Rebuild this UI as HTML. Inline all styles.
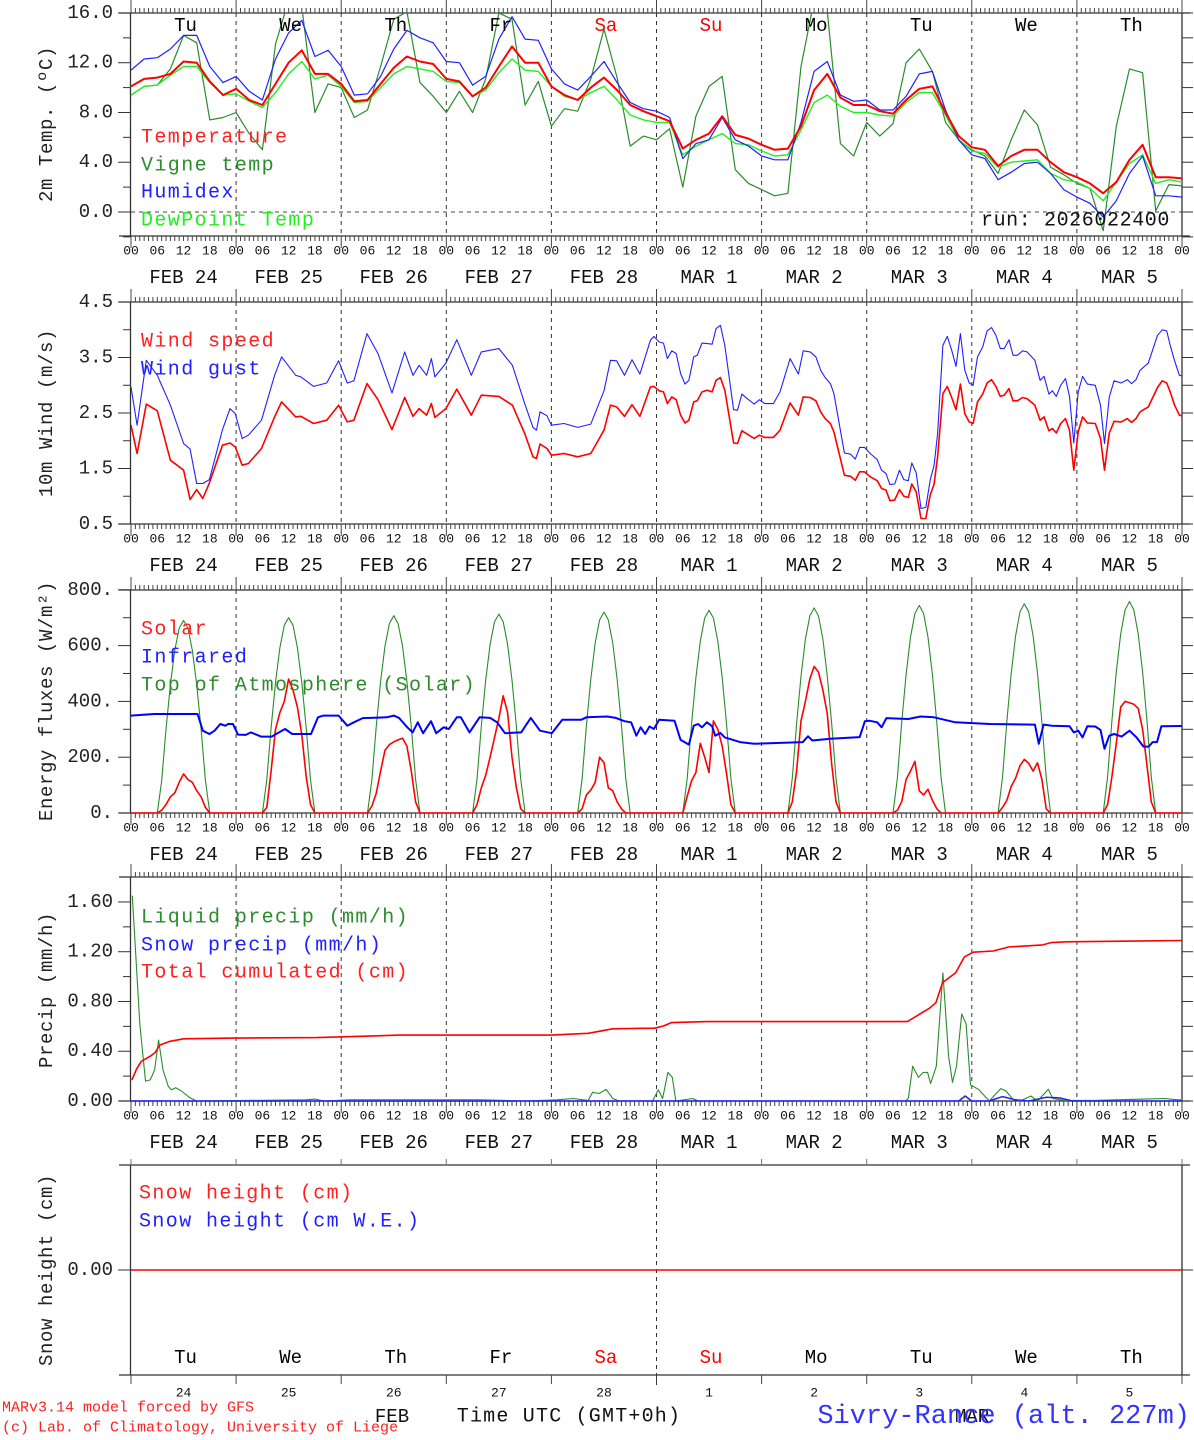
<!DOCTYPE html>
<html><head><meta charset="utf-8"><title>MAR meteogram Sivry-Rance</title>
<style>
html,body{margin:0;padding:0;background:#fff;}
svg{display:block;font-family:"Liberation Mono","DejaVu Sans Mono",monospace;}
</style></head>
<body>
<svg id="chart" width="1194" height="1440" viewBox="0 0 1194 1440" xmlns="http://www.w3.org/2000/svg">
<defs>
<clipPath id="c1"><rect x="131" y="13" width="1051" height="223"/></clipPath>
<clipPath id="c2"><rect x="131" y="302" width="1051" height="222"/></clipPath>
<clipPath id="c3"><rect x="131" y="588" width="1051" height="226"/></clipPath>
<clipPath id="c4"><rect x="131" y="877" width="1051" height="225"/></clipPath>
</defs>
<g id="axes"></g>
<g id="series"></g>
<g id="texts"></g>
</svg>
<script>
// ---------- DATA ----------
const dayNames = ["Tu","We","Th","Fr","Sa","Su","Mo","Tu","We","Th"];
const dayNameColors = ["#000","#000","#000","#000","#f00","#f00","#000","#000","#000","#000"];
const dateLabels = ["FEB  24","FEB  25","FEB  26","FEB  27","FEB  28","MAR   1","MAR   2","MAR   3","MAR   4","MAR   5"];
const dayNumbers = ["24","25","26","27","28","1","2","3","4","5"];
const hourLabels = ["00","06","12","18"];

// Panel 1 temperature (3-hourly, 0..240h)
const tempHours3h = [0,3,6,9,12,15,18,21,24,27,30,33,36,39,42,45,48,51,54,57,60,63,66,69,72,75,78,81,84,87,90,93,96,99,102,105,108,111,114,117,120,123,126,129,132,135,138,141,144,147,150,153,156,159,162,165,168,171,174,177,180,183,186,189,192,195,198,201,204,207,210,213,216,219,222,225,228,231,234,237,240];
const temperature = [10.1,10.7,10.8,11.1,12.1,12.0,10.5,9.4, 9.9,9.0,8.6,10.3,12.0,13.0,11.1,11.1, 10.3,8.9,9.0,10.3,11.6,12.5,12.1,11.9, 10.7,10.5,9.3,10.0,11.7,13.3,12.0,12.0, 10.1,9.4,9.0,10.0,10.8,9.8,8.6,8.1, 7.7,7.3,5.1,5.8,6.3,7.7,6.2,5.9, 5.4,5.0,5.1,6.9,9.8,11.1,9.2,8.6, 8.6,8.1,7.9,9.0,9.9,10.1,8.0,6.1, 5.2,5.0,3.7,4.5,5.0,5.0,4.0,3.2, 2.8,2.3,1.5,2.4,4.2,5.4,2.8,2.8, 2.7];
const humidex = [11.4,12.3,12.4,13.1,14.2,14.2,11.7,10.4, 10.9,9.7,9.0,12.3,14.4,15.4,12.5,13.0, 11.7,9.4,9.5,10.9,13.1,14.6,14.0,13.6, 12.1,12.0,10.2,10.9,13.9,15.7,13.9,13.8, 11.5,10.3,9.8,10.9,12.1,10.4,8.8,8.3, 8.1,7.6,4.3,5.5,5.8,7.6,5.8,5.3, 4.5,4.2,4.2,7.2,11.3,12.1,9.4,8.9, 9.0,8.2,8.2,9.3,11.1,11.3,8.2,5.8, 4.6,4.3,2.6,3.2,3.9,4.0,3.1,1.8, 1.2,0.7,-0.4,0.9,3.1,4.5,1.3,1.3, 1.2];
const dewPoint = [9.4,10.1,10.2,11.0,11.7,11.7,10.4,9.4, 9.5,8.9,8.4,9.6,11.1,12.1,10.7,11.0, 10.1,8.8,8.9,10.0,11.1,11.7,11.5,11.3, 10.5,10.4,9.3,9.8,11.2,12.3,11.4,11.3, 10.1,9.3,9.0,9.6,10.1,9.0,7.8,7.4, 7.2,7.2,4.6,5.3,5.8,6.3,5.5,5.4, 4.9,4.5,4.6,6.6,8.8,9.4,8.5,8.0, 8.0,7.8,7.7,8.8,9.6,9.6,7.8,5.8, 4.9,4.7,3.6,4.0,4.1,4.2,3.1,2.6, 2.4,1.9,0.9,2.4,3.9,4.6,2.3,2.6, 2.4];
const vigneTemp = [9.4,10.1,10.2,11.5,14.2,13.6,7.4,7.6, 8.0,6.3,5.0,13.5,17.0,16.5,8.0,10.3, 10.0,7.6,8.2,11.7,15.5,16.1,10.4,9.3, 8.0,9.7,8.0,10.7,16.0,15.5,8.6,10.5, 6.9,8.3,8.1,10.7,14.7,10.8,5.3,6.1, 5.8,6.7,2.0,7.7,10.1,10.9,3.4,2.3, 1.8,1.3,1.5,11.7,17.0,16.1,5.5,4.5, 7.2,6.1,7.1,12.0,13.1,11.3,7.2,5.8, 5.0,4.5,3.1,5.8,8.2,7.0,3.6,3.0, 2.3,1.9,-1.5,6.9,11.5,11.2,0.1,2.2, 2.1];

// Panel 2 wind
const windHours = [0,1.4,3.5,6,9,12,13.5,15,16.4,17.9, 20.9,22.6,23.8,25.4,26.8,29.8,32.8,34.4,37.6,38.8, 41.7,44.7,47.4,49.4,50.9,53.9,56.4,59.6,62.5,64.4, 65.8,67.5,68.6,69.4,71.9,74.4,77.7,80,84,87.1, 89.9,91.8,92.6,93.4,95,96,98.9,102,105,108, 109.5,110.9,112.7,114.4,116.2,118.6,
 119.4,120.6,121.6,122.5,123.5,124.5,125.5,126.5,127.4,128.5, 129.3,130.4,131.6,132.7,133.6,134.6,135.6,137.6,138.5,139.5, 140.7,142.3,143.5,144.7,146.7,148.2,150.5,152.4,153.5,155.1, 156.4,157.5,158.5,159.7,160.5,162.9,164.3,165.4,166.4,167.5, 168.8,170.4,171.4,172.4,173.3,174.4,175.5,176.5,177.5,178.3, 179.3,180.4,181.5,182.5,183.4,184.2,185.4,186.4,187.4,188.4, 189.4,190.4,191.4,192.3,193.3,194.5,195.5,196.5,197.5,198.5, 199.4,200.5,201.4,202.4,203.6,204.6,206.4,207.6,208.5,209.6, 210.4,211.3,212.3,213.4,214.3,215.3,216.3,217.3,218.4,220.2, 221.4,222.3,223.4,224.5,226.1,227.5,228.5,229.5,230.4,232.3, 234.4,235.5,236.5,237.3,238.3,239.4,240];
const windSpeed = [2.28,1.77,2.66,2.54,1.65,1.47,0.94,1.12,0.96,1.24, 1.92,1.96,1.89,1.56,1.59,1.86,2.43,2.70,2.43,2.44, 2.31,2.37,2.64,2.34,2.37,3.03,2.74,2.20,2.78,2.44, 2.58,2.46,2.67,2.42,2.58,2.93,2.46,2.82,2.80,2.64, 2.13,1.71,1.68,1.94,1.86,1.74,1.77,1.71,1.77,2.19, 2.64,2.61,2.44,2.65,2.44,2.97,
 2.98,2.90,2.88,2.67,2.79,2.74,2.46,2.32,2.37,2.70, 2.72,2.88,2.91,2.88,3.09,3.14,2.91,1.96,1.95,2.18, 2.12,2.04,2.10,2.06,2.06,2.19,2.68,2.46,2.79,2.78, 2.72,2.52,2.40,2.31,2.16,1.38,1.36,1.29,1.44,1.44, 1.35,1.28,1.14,1.11,0.92,0.93,1.12,1.00,0.98,1.22, 1.08,0.60,0.60,1.02,1.22,1.71,2.85,2.98,2.78,2.56, 3.02,2.49,2.34,2.31,2.70,2.84,3.04,3.10,2.98,2.80, 2.82,2.94,2.72,2.72,2.78,2.76,2.64,2.37,2.43,2.18, 2.22,2.14,2.31,2.40,2.19,1.47,2.16,2.43,2.32,2.31, 2.04,1.47,2.14,2.35,2.34,2.40,2.33,2.40,2.52,2.61, 2.96,3.08,3.04,2.88,2.64,2.46,2.45];
const windGust = [2.97,2.28,3.45,3.18,2.64,1.95,1.85,1.23,1.23,1.30, 2.20,2.58,2.49,2.04,2.10,2.37,3.18,3.51,3.18,3.15, 2.98,3.04,3.44,3.04,3.08,3.93,3.57,2.86,3.60,3.18, 3.36,3.18,3.48,3.15,3.40,3.82,3.18,3.60,3.66,3.36, 2.67,2.24,2.19,2.52,2.45,2.28,2.31,2.24,2.30,2.90, 3.45,3.44,3.18,3.46,3.20,3.81,
 3.88,3.78,3.76,3.48,3.62,3.57,3.21,3.02,3.09,3.51, 3.54,3.76,3.75,3.74,4.02,4.08,3.72,2.56,2.55,2.84, 2.76,2.66,2.74,2.67,2.67,2.88,3.48,3.20,3.62,3.60, 3.51,3.27,3.14,3.03,2.85,1.78,1.76,1.67,1.88,1.88, 1.77,1.66,1.47,1.41,1.21,1.22,1.47,1.30,1.28,1.60, 1.42,0.78,0.80,1.29,1.56,2.13,3.72,3.88,3.63,3.34, 3.93,3.27,3.04,3.00,3.51,3.69,3.98,4.04,3.90,3.66, 3.66,3.82,3.54,3.54,3.62,3.60,3.45,3.09,3.16,2.84, 2.90,2.80,3.00,3.12,2.80,1.96,2.88,3.16,3.02,3.00, 2.64,1.95,2.79,3.08,3.04,3.10,3.03,3.10,3.27,3.40, 3.90,4.00,3.98,3.72,3.44,3.18,3.17];

// Panel 3 energy fluxes: hourly values 06..18 UTC for each day
const sunHours = [6,7,8,9,10,11,12,13,14,15,16,17,18];
const solarDay24 = [0,10,30,58,72,110,140,120,110,80,58,20,0];
const solarDay25 = [0,20,150,300,360,400,480,440,380,280,130,30,0];
const solarDay26 = [0,25,70,150,225,245,255,262,268,240,150,40,0];
const solarDay27 = [0,30,90,135,200,270,340,420,360,200,90,15,0];
const solarDay28 = [0,15,65,82,110,200,180,90,80,40,15,0,0];
const solarDay01 = [0,60,115,145,250,200,145,330,300,240,140,30,0];
const solarDay02 = [0,40,150,330,400,480,525,505,440,355,175,40,0];
const solarDay03 = [0,10,40,120,150,185,80,65,85,45,15,0,0];
const solarDay04 = [0,20,45,95,125,170,192,178,150,180,120,15,0];
const solarDay05 = [0,30,130,250,380,400,395,390,375,300,170,40,0];
const solar = [solarDay24,solarDay25,solarDay26,solarDay27,solarDay28,solarDay01,solarDay02,solarDay03,solarDay04,solarDay05];
const toaDay24 = [0,117,300,460,584,663,690,663,584,460,300,117,0];
const toaDay25 = [0,119,305,467,593,673,700,673,593,467,305,119,0];
const toaDay26 = [0,120,308,472,599,679,707,679,599,472,308,120,0];
const toaDay27 = [0,121,310,476,604,685,713,685,604,476,310,121,0];
const toaDay28 = [0,122,313,480,610,692,720,692,610,480,313,122,0];
const toaDay01 = [0,124,316,485,616,699,727,699,616,485,316,124,0];
const toaDay02 = [0,125,320,490,623,706,735,706,623,490,320,125,0];
const toaDay03 = [0,126,324,496,630,715,744,715,630,496,324,126,0];
const toaDay04 = [0,128,326,500,635,721,750,721,635,500,326,128,0];
const toaDay05 = [0,129,330,506,642,728,758,728,642,506,330,129,0];
const toa = [toaDay24,toaDay25,toaDay26,toaDay27,toaDay28,toaDay01,toaDay02,toaDay03,toaDay04,toaDay05];
const irHours = [0,5.3,15.2,16.4,17.9,19.1,20.4,21.5,22.2,23.3, 24.4,26.2,27.4,29.7,32.1,33.8,35.2,36.8,41.1,42.7, 43.9,47.4,49.4,50.5,52.9,58.4,60,61.2,63.1,64.3, 65.5,66.7,68.5,69.7,71.4,72.6,74.4,75.3,77.3,79.6, 82,83.6,85.4,89.1,90.1,91.3,93.4,96.1,98.5,102.8, 104,108.7,110.7,112.7,114.2,115.4,116.4,117.4,118.4,119.4, 120.6,124.1,125.5,127.4,128.5,129.5,130.4,131.5,132.7,133.4, 134.6,135.6,139.1,142.3,153.4,154.6,155.6,159.7,166.4,167.6, 168.6,170.4,171.4,172.5,177.5,180.3,183.4,188.2,196.1,206.4, 207.3,208.4,210.3,214.3,215.3,216.3,217.3,218.4,220.2,221.4, 222.3,223.4,224.5,226.2,228,229.6,231.2,232.4,233.3,234.3, 235.3,240];
const infrared = [349,355,355,295,283,295,319,313,319,319, 281,280,289,274,274,289,301,283,283,343, 349,349,313,322,340,343,349,341,307,289, 325,286,329,286,307,301,343,343,289,343, 341,325,286,289,313,341,295,286,334,334, 343,346,341,329,325,277,307,283,310,301, 334,331,262,245,313,319,307,325,311,277, 287,271,254,248,254,275,260,266,272,329, 331,325,307,340,337,346,343,325,319,317, 248,317,313,311,289,295,271,311,310,298, 230,277,283,274,295,271,238,238,254,254, 311,312];

// Panel 4 precipitation
const cumHours = [0.2,1.3,2.4,4.4,5.5,6.6,8.9,12,23.4,42.4,61.4,84.2,96,104.4,110,119.6,121.6,123.4,131.7,177.3,182.3,183.8,185.3,186.8,188.3,190.3,192.3,196.9,200.4,208.2,210.1,213.6,240];
const cumPrecip = [0.17,0.26,0.32,0.36,0.39,0.45,0.48,0.50,0.506,0.51,0.53,0.53,0.53,0.544,0.58,0.585,0.603,0.63,0.638,0.638,0.745,0.79,0.95,0.99,1.03,1.158,1.196,1.206,1.238,1.255,1.273,1.28,1.29];
const liqHours = [0.3,2,3.3,4.4,5.4,6.3,7.3,8.5,9.2,10.2,11.5,13.4,15,40,42,44,50,60,70,80,90,97.3,100.9,104.4,105.4,106.9,108.5,110,111.5,119.1,120.4,121.4,122.6,123.6,124.4,128.3,129.5,176.8,177.5,178.5,179.8,180.9,181.9,182.6,183.9,185.4,186.7,187.6,188.5,189.7,190.7,191.7,193.5,196,198.6,199.8,201.5,203,205.5,207,209.5,210.5,213,219.8,236,239,240];
const liqPrecip = [1.65,0.62,0.16,0.17,0.25,0.49,0.25,0.12,0.09,0.107,0.08,0.027,0,0.01,0.015,0,0.01,0.01,0.01,0.01,0,0.01,0.02,0.005,0.07,0.06,0.094,0.02,0,0,0.09,0.02,0.23,0.19,0,0.02,0,0,0.02,0.28,0.19,0.23,0.23,0.14,0.28,1.03,0.36,0.15,0.28,0.70,0.62,0.13,0.094,0,0.10,0.08,0.01,0,0.04,0,0.094,0.02,0.005,0.005,0.02,0.01,0.01];
const snowHours = [0,189,190.5,192,196,199,202,205,209,212,215,240];
const snowPrecip = [0,0,0.04,0,0,0.035,0.01,0,0.03,0.025,0,0];

// Panel 5 snow height
const snowDepthHours = [0,240];
const snowDepth = [0,0];

// ---------- GEOMETRY ----------
const X0 = 131, XW = 1051;
function px(h){ return X0 + h*XW/240; }
const P = [
  {top:13,  bot:236, ref:212,  refv:0,   k:12.44, clip:"c1"},
  {top:302, bot:524, ref:524,  refv:0.5, k:55.5,  clip:"c2"},
  {top:590, bot:813, ref:813,  refv:0,   k:0.279, clip:"c3"},
  {top:877, bot:1101,ref:1101, refv:0,   k:124.4, clip:"c4"},
  {top:1165,bot:1375,ref:1270, refv:0,   k:50,    clip:null}
];
function py(p,v){ return P[p].ref - (v-P[p].refv)*P[p].k; }

const NS="http://www.w3.org/2000/svg";
const axes=document.getElementById('axes'), series=document.getElementById('series'), texts=document.getElementById('texts');
function mk(tag, attrs, parent){ const e=document.createElementNS(NS,tag); for(const k in attrs) e.setAttribute(k,attrs[k]); parent.appendChild(e); return e; }
function line(x1,y1,x2,y2,st,parent,name){
  const e=mk('line',{x1:x1,y1:y1,x2:x2,y2:y2,stroke:st.c||'#222','stroke-width':st.w||1},parent||axes);
  if(st.d) e.setAttribute('stroke-dasharray',st.d);
  
  
  return e;
}
function text(x,y,s,opt,name){
  const e=mk('text',{x:x,y:y,'font-size':opt.size||19,fill:opt.c||'#111','text-anchor':opt.a||'start','dominant-baseline':'central'},texts);
  if(opt.ls) e.setAttribute('letter-spacing',opt.ls);
  if(opt.rot) e.setAttribute('transform','rotate(-90 '+x+' '+y+')');
  e.textContent=s;
  
  
  return e;
}
function poly(p,hours,vals,color,w,name){
  let pts=[];
  const n=Math.min(hours.length,vals.length);
  for(let i=0;i<n;i++) pts.push(px(hours[i]).toFixed(1)+','+py(p,vals[i]).toFixed(1));
  const e=mk('polyline',{points:pts.join(' '),fill:'none',stroke:color,'stroke-width':w,'stroke-linejoin':'round'},series);
  if(P[p].clip) e.setAttribute('clip-path','url(#'+P[p].clip+')');
  
  
  return e;
}

// ---------- FRAMES & TICKS ----------
const yTicks = [
  {minor:[-2,0,2,4,6,8,10,12,14,16], major:[0,4,8,12,16], lab:["0.0","4.0","8.0","12.0","16.0"]},
  {minor:[0.5,1,1.5,2,2.5,3,3.5,4,4.5], major:[0.5,1.5,2.5,3.5,4.5], lab:["0.5","1.5","2.5","3.5","4.5"]},
  {minor:[0,100,200,300,400,500,600,700,800], major:[0,200,400,600,800], lab:["0.","200.","400.","600.","800."]},
  {minor:[0,0.2,0.4,0.6,0.8,1.0,1.2,1.4,1.6,1.8], major:[0,0.4,0.8,1.2,1.6], lab:["0.00","0.40","0.80","1.20","1.60"]},
  {minor:[0], major:[0], lab:["0.00"]}
];
const yTitles = ["2m Temp. (ºC)","10m Wind (m/s)","Energy fluxes (W/m²)","Precip (mm/h)","Snow height (cm)"];
const titleCY = [124,413,701,990,1270];

for(let p=0;p<5;p++){
  const T=P[p];
  // frame
  line(X0-0.5,T.top,X0-0.5,T.bot,{c:'#333',w:1.3},null,'y-axis-left');
  line(X0+XW,T.top,X0+XW,T.bot,{c:'#333',w:1.3},null,'y-axis-right');
  line(X0-12,T.top,X0+XW+8,T.top,{c:'#333',w:1.3},null,'frame-top');
  line(X0-12,T.bot,X0+XW+8,T.bot,{c:'#333',w:1.3},null,'frame-bottom');
  // y ticks
  yTicks[p].minor.forEach(v=>{
    const y=py(p,v); if(y<T.top-1||y>T.bot+1) return;
    const isMaj=yTicks[p].major.indexOf(v)>=0;
    line(X0-(isMaj?13:8),y,X0,y,{c:'#333'},null,'y-tick');
    line(X0+XW,y,X0+XW+11,y,{c:'#333'},null,'y-tick-right');
  });
  yTicks[p].major.forEach((v,i)=>{
    text(113,py(p,v),yTicks[p].lab[i],{a:'end',size:19,c:'#222'},'y-tick-label');
  });
  text(47,titleCY[p],yTitles[p],{size:19,rot:true,a:'middle',c:'#222',ls:0.6},'y-axis-title');
  // x ticks
  if(p<4){
    for(let h=0;h<=240;h++){
      const x=px(h), major=(h%24===0);
      line(x,T.top-(major?13:5),x,T.top,{c:'#444'},null,'x-tick-top');
      line(x,T.bot,x,T.bot+(major?12:5),{c:'#444'},null,'x-tick-bottom');
      if(major && h>0 && h<240) line(x,T.top,x,T.bot,{c:'#333',d:'4,4'},null,'day-gridline');
    }
    for(let d=0;d<=10;d++){
      for(let j=0;j<4;j++){
        if(d===10 && j>0) break;
        text(px(d*24+j*6),T.bot+15,hourLabels[j],{a:'middle',size:13,c:'#111'},'hour-label');
      }
      if(d<10) text(px(d*24+12),T.bot+42,dateLabels[d],{a:'middle',size:19,c:'#111'},'date-label');
    }
  } else {
    for(let d=0;d<=10;d++){
      const x=px(d*24);
      line(x,T.top-6,x,T.top,{c:'#777'},null,'x-tick-top');
      line(x,T.bot,x,T.bot+9,{c:'#444'},null,'x-tick-bottom');
    }
    line(px(120),T.top,px(120),T.bot+12,{c:'#333',d:'4,4'},null,'month-divider');
  }
}
line(X0,py(0,0),X0+XW,py(0,0),{c:'#444',d:'4,4'},null,'zero-line');

// day names
for(let d=0;d<10;d++){
  text(px(d*24+12)+2,26,dayNames[d],{a:'middle',size:19,c:dayNameColors[d]},'day-name');
  text(px(d*24+12)+2,1358,dayNames[d],{a:'middle',size:19,c:dayNameColors[d]},'day-name-bottom');
  text(px(d*24+12),1393,dayNumbers[d],{a:'middle',size:13,c:'#111'},'day-number');
}

// ---------- SERIES ----------
poly(0,tempHours3h,vigneTemp,'#2a8c2a',1.2,'vigne-temp-line');
poly(0,tempHours3h,dewPoint,'#22ee22',1.4,'dewpoint-line');
poly(0,tempHours3h,humidex,'#2020ff',1.2,'humidex-line');
poly(0,tempHours3h,temperature,'#ff0000',2,'temperature-line');

poly(1,windHours,windGust,'#2020ff',1.1,'wind-gust-line');
poly(1,windHours,windSpeed,'#ff0000',1.6,'wind-speed-line');

// energy: expand daily profiles into full-period series
let eH=[], eSol=[], eToa=[];
for(let d=0;d<10;d++){
  for(let j=0;j<sunHours.length;j++){
    eH.push(d*24+sunHours[j]); eSol.push(solar[d][j]); eToa.push(toa[d][j]);
  }
}
eH.unshift(0); eSol.unshift(0); eToa.unshift(0);
eH.push(240); eSol.push(0); eToa.push(0);
poly(2,eH,eToa,'#2a8c2a',1.1,'toa-solar-line');
poly(2,eH,eSol,'#ff0000',1.6,'solar-line');
poly(2,irHours,infrared,'#0000ff',2,'infrared-line');

poly(3,liqHours,liqPrecip,'#2a8c2a',1.1,'liquid-precip-line');
poly(3,snowHours,snowPrecip,'#2020ff',1.5,'snow-precip-line');
poly(3,cumHours,cumPrecip,'#ff0000',1.6,'total-cumulated-line');

poly(4,snowDepthHours,snowDepth,'#ff0000',1.6,'snow-height-line');

// ---------- LEGENDS & TEXT ----------
const L = {size:20,ls:1.4};
text(141,138,"Temperature",{size:L.size,ls:L.ls,c:'#ff2020'},'legend-temperature');
text(141,166,"Vigne temp",{size:L.size,ls:L.ls,c:'#2a8c2a'},'legend-vigne-temp');
text(141,193,"Humidex",{size:L.size,ls:L.ls,c:'#2020ff'},'legend-humidex');
text(141,221,"DewPoint Temp",{size:L.size,ls:L.ls,c:'#22ee22'},'legend-dewpoint');
text(1170,221,"run: 2026022400",{size:L.size,ls:0.6,a:'end',c:'#111'},'run-label');
text(141,342,"Wind speed",{size:L.size,ls:L.ls,c:'#ff2020'},'legend-wind-speed');
text(141,370,"Wind gust",{size:L.size,ls:L.ls,c:'#2020ff'},'legend-wind-gust');
text(141,630,"Solar",{size:L.size,ls:L.ls,c:'#ff2020'},'legend-solar');
text(141,658,"Infrared",{size:L.size,ls:L.ls,c:'#2020ff'},'legend-infrared');
text(141,686,"Top of Atmosphere (Solar)",{size:L.size,ls:L.ls,c:'#2a8c2a'},'legend-toa');
text(141,918,"Liquid precip (mm/h)",{size:L.size,ls:L.ls,c:'#2a8c2a'},'legend-liquid-precip');
text(141,946,"Snow precip (mm/h)",{size:L.size,ls:L.ls,c:'#2020ff'},'legend-snow-precip');
text(141,973,"Total cumulated (cm)",{size:L.size,ls:L.ls,c:'#ff2020'},'legend-total-cumulated');
text(139,1194,"Snow height (cm)",{size:L.size,ls:L.ls,c:'#ff2020'},'legend-snow-height');
text(139,1222,"Snow height (cm W.E.)",{size:L.size,ls:L.ls,c:'#2020ff'},'legend-snow-height-we');

text(392,1417,"FEB",{a:'middle',size:19,c:'#111'},'month-feb');
text(972,1417,"MAR",{a:'middle',size:19,c:'#111'},'month-mar');
text(569,1417,"Time UTC (GMT+0h)",{a:'middle',size:20,ls:1.2,c:'#111'},'x-axis-title');
text(2,1408,"MARv3.14 model forced by GFS",{size:15,c:'#ff2020'},'credit-model');
text(2,1428,"(c) Lab. of Climatology, University of Liege",{size:15,c:'#ff2020'},'credit-lab');
text(1190,1417,"Sivry-Rance (alt. 227m)",{a:'end',size:27,c:'#3333ff'},'station-title');
</script>
</body></html>
